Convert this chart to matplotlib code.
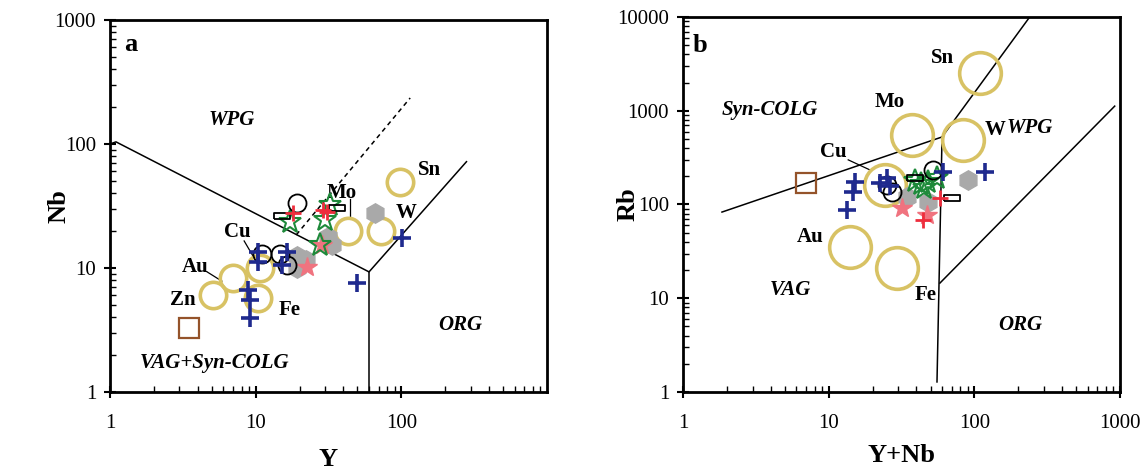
import numpy as np
import matplotlib
matplotlib.use('Agg')
from matplotlib import pyplot as plt
from matplotlib.ticker import LogLocator, NullFormatter, FixedLocator

plt.rcParams['font.family'] = ['Liberation Serif', 'DejaVu Serif']

# ---- panel a : Nb vs Y ----
a_deposit = ['Sn', 'Mo', 'W', 'Cu', 'Au', 'Zn', 'Fe']
a_dep_y = [98, 43, 72, 10.7, 7.0, 5.1, 10.4]
a_dep_nb = [49, 20, 20, 10, 8.3, 6.1, 5.7]

a_blue_y = [10.4, 10.4, 16.4, 15.1, 8.9, 9.1, 9.1, 50, 101]
a_blue_nb = [13.5, 11.2, 13.5, 10.6, 6.6, 5.5, 3.95, 7.6, 17.5]

a_ocirc_y = [19.2, 11.0, 14.7, 16.3]
a_ocirc_nb = [33.4, 13.0, 13.0, 10.6]

a_red_y = [18, 29, 31]
a_red_nb = [28, 29.4, 28.3]

a_rect_y = [15.1, 36]
a_rect_nb = [26.3, 30.5]

a_green_y = [17.2, 32.4, 29.9, 27.6]
a_green_nb = [23.5, 32.2, 24.4, 15.3]

a_hex_y = [66, 31.3, 33.3, 19.3, 22, 19.2]
a_hex_nb = [27.8, 17.8, 15.3, 12.5, 11.6, 10.0]

a_pink_y = [22.5, 28.5]
a_pink_nb = [10.2, 15.3]

a_sq_y = [3.5]
a_sq_nb = [3.3]

# ---- panel b : Rb vs Y+Nb ----
b_deposit = ['Sn', 'Mo', 'W', 'Cu', 'Au', 'Fe']
b_dep_x = [109, 37.3, 83, 24.3, 14, 29.4]
b_dep_rb = [2530, 550, 490, 161, 35, 21]

b_blue_x = [15.2, 14.7, 13.4, 22.5, 25.1, 26.4, 61, 118]
b_blue_rb = [174, 136, 87, 170, 192, 157, 222, 222]

b_ocirc_x = [25.1, 27.2, 52]
b_ocirc_rb = [161, 136, 233]

b_red_x = [58, 44.4]
b_red_rb = [117, 68]

b_rect_x = [39, 70]
b_rect_rb = [192, 117]

b_green_x = [39, 43, 48, 55, 45]
b_green_rb = [180, 165, 175, 190, 150]

b_hex_x = [34.5, 48, 90]
b_hex_rb = [120, 106, 183]

b_pink_x = [31.8, 47.3]
b_pink_rb = [92, 77]

b_sq_x = [7]
b_sq_rb = [170]

yellow = '#D8C264'
navy = '#1F2A8E'
red = '#EE2D3C'
green = '#1E8A3A'
gray = '#A9A9A9'
pink = '#F0737F'
brown = '#94532A'
rect = [(-1, -0.35), (1, -0.35), (1, 0.35), (-1, 0.35), (-1, -0.35)]

fig = plt.figure(figsize=(11.48, 4.69), dpi=100)
axa = fig.add_axes([0.0958, 0.1642, 0.3807, 0.7932])
axb = fig.add_axes([0.595, 0.1642, 0.3806, 0.7996])


def draw_points(ax, dx, dy, bx, by, ox, oy, rx, ry, kx, ky, gx, gy, hx, hy, px, py, sx, sy, circ_ms):
    ax.plot(sx, sy, ls='none', marker='s', ms=14, mfc='none', mec=brown, mew=1.6, zorder=3)
    ax.plot(dx, dy, ls='none', marker='o', ms=circ_ms, mfc='none', mec=yellow, mew=2.6, zorder=3)
    ax.plot(hx, hy, ls='none', marker='h', ms=14, mfc=gray, mec=gray, zorder=4)
    ax.plot(px, py, ls='none', marker='*', ms=15, mfc=pink, mec=pink, zorder=5)
    ax.plot(gx, gy, ls='none', marker='*', ms=17, mfc='none', mec=green, mew=1.5, zorder=6)
    ax.plot(kx, ky, ls='none', marker=rect, ms=12, mfc='none', mec='black', mew=1.3, zorder=6)
    ax.plot(ox, oy, ls='none', marker='o', ms=13, mfc='none', mec='black', mew=1.3, zorder=6)
    ax.plot(bx, by, ls='none', marker='+', ms=13, mec=navy, mew=2.6, zorder=7)
    ax.plot(rx, ry, ls='none', marker='+', ms=12, mec=red, mew=2.0, zorder=7)


def style_axes(ax, xmax, ymax, xticks, yticks):
    ax.set_xscale('log')
    ax.set_yscale('log')
    ax.set_xlim(1, xmax)
    ax.set_ylim(1, ymax)
    ax.xaxis.set_major_locator(FixedLocator(xticks))
    ax.yaxis.set_major_locator(FixedLocator(yticks))
    ax.set_xticklabels([str(t) for t in xticks])
    ax.set_yticklabels([str(t) for t in yticks])
    ax.xaxis.set_minor_locator(LogLocator(base=10, subs=np.arange(2, 10)))
    ax.yaxis.set_minor_locator(LogLocator(base=10, subs=np.arange(2, 10)))
    ax.xaxis.set_minor_formatter(NullFormatter())
    ax.yaxis.set_minor_formatter(NullFormatter())
    ax.tick_params(which='major', direction='inout', length=8, width=1.5, labelsize=15, top=False, right=False)
    ax.tick_params(which='minor', direction='in', length=4, width=1.0, top=False, right=False)
    ax.tick_params(axis='x', which='major', pad=12)
    ax.tick_params(axis='y', which='major', pad=6)
    for s in ax.spines.values():
        s.set_linewidth(2.0)


# panel a
style_axes(axa, 1000, 1000, [1, 10, 100], [1, 10, 100, 1000])
axa.plot([1, 1.1, 60, 280], [100, 104, 9.3, 72], color='black', lw=1.1)
axa.plot([60, 60], [9.3, 1], color='black', lw=1.1)
axa.plot([19, 115], [18.5, 235], color='black', lw=1.1, ls=(0, (3, 2.5)))
draw_points(axa, a_dep_y, a_dep_nb, a_blue_y, a_blue_nb, a_ocirc_y, a_ocirc_nb, a_red_y, a_red_nb,
            a_rect_y, a_rect_nb, a_green_y, a_green_nb, a_hex_y, a_hex_nb, a_pink_y, a_pink_nb,
            a_sq_y, a_sq_nb, 19)

lab = dict(ha='center', va='center', fontsize=15, fontweight='bold', transform=axa.transAxes)
axa.text(0.048, 0.933, 'a', fontsize=19, fontweight='bold', ha='center', va='center', transform=axa.transAxes)
axa.text(0.279, 0.731, 'WPG', style='italic', **lab)
axa.text(0.801, 0.180, 'ORG', style='italic', **lab)
axa.text(0.240, 0.078, 'VAG+Syn-COLG', style='italic', **lab)
a_lab_pos = [(0.732, 0.597), (0.531, 0.535), (0.677, 0.481), (0.291, 0.430),
             (0.195, 0.336), (0.167, 0.247), (0.412, 0.220)]
for name, (tx, ty) in zip(a_deposit, a_lab_pos):
    axa.text(tx, ty, name, **lab)
axa.plot([0.307, 0.330], [0.406, 0.360], color='black', lw=0.9, transform=axa.transAxes)
axa.plot([0.222, 0.256], [0.323, 0.298], color='black', lw=0.9, transform=axa.transAxes)
axa.plot([0.549, 0.549], [0.519, 0.468], color='black', lw=0.9, transform=axa.transAxes)
axa.set_xlabel('Y', fontsize=19, fontweight='bold')
axa.set_ylabel('Nb', fontsize=19, fontweight='bold')
axa.xaxis.set_label_coords(0.5, -0.15)
axa.yaxis.set_label_coords(-0.09, 0.5)

# panel b
style_axes(axb, 1000, 10000, [1, 10, 100, 1000], [1, 10, 100, 1000, 10000])
axb.plot([1.85, 60, 240], [83, 525, 10000], color='black', lw=1.1)
axb.plot([60, 55.4], [525, 1.28], color='black', lw=1.1)
axb.plot([58, 920], [14.5, 1120], color='black', lw=1.1)
draw_points(axb, b_dep_x, b_dep_rb, b_blue_x, b_blue_rb, b_ocirc_x, b_ocirc_rb, b_red_x, b_red_rb,
            b_rect_x, b_rect_rb, b_green_x, b_green_rb, b_hex_x, b_hex_rb, b_pink_x, b_pink_rb,
            b_sq_x, b_sq_rb, 30)

lab['transform'] = axb.transAxes
axb.text(0.039, 0.925, 'b', fontsize=19, fontweight='bold', ha='center', va='center', transform=axb.transAxes)
axb.text(0.199, 0.752, 'Syn-COLG', style='italic', **lab)
axb.text(0.245, 0.272, 'VAG', style='italic', **lab)
axb.text(0.771, 0.179, 'ORG', style='italic', **lab)
axb.text(0.794, 0.704, 'WPG', style='italic', **lab)
b_lab_pos = [(0.593, 0.891), (0.474, 0.773), (0.714, 0.699), (0.343, 0.640),
             (0.291, 0.413), (0.556, 0.259)]
for name, (tx, ty) in zip(b_deposit, b_lab_pos):
    axb.text(tx, ty, name, **lab)
axb.plot([0.378, 0.428], [0.619, 0.592], color='black', lw=0.9, transform=axb.transAxes)
axb.set_xlabel('Y+Nb', fontsize=19, fontweight='bold')
axb.set_ylabel('Rb', fontsize=19, fontweight='bold')
axb.xaxis.set_label_coords(0.5, -0.14)
axb.yaxis.set_label_coords(-0.10, 0.5)

fig.savefig('out.png', dpi=100)
